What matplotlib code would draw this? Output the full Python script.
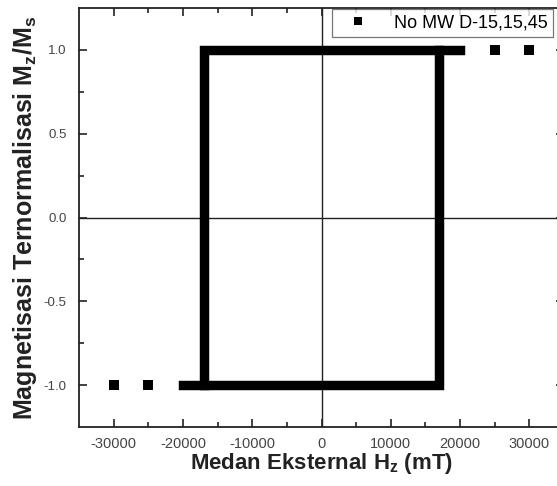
import matplotlib
matplotlib.use("Agg")
import matplotlib.pyplot as plt
from matplotlib.lines import Line2D

plt.rcParams['font.family'] = ['Liberation Sans', 'DejaVu Sans']
plt.rcParams['axes.unicode_minus'] = False
plt.rcParams['mathtext.fontset'] = 'custom'
plt.rcParams['mathtext.bf'] = 'Liberation Sans:bold'
plt.rcParams['mathtext.rm'] = 'Liberation Sans'

# titik-titik jarang (langkah medan 5000 mT)
h_sparse = [30000, 25000, -25000, -30000]
m_sparse = [1, 1, -1, -1]

# cabang turun (rapat): dari +20000 ke -17000, lalu loncat ke -1
h_desc = [20000, -17000, -17000]
m_desc = [1, 1, -1]

# cabang naik (rapat): dari -20000 ke +17000, lalu loncat ke +1
h_asc = [-20000, 17000, 17000]
m_asc = [-1, -1, 1]

legend_label = "No MW D-15,15,45"
x_ticks = [-30000, -20000, -10000, 0, 10000, 20000, 30000]
y_ticks = [-1.0, -0.5, 0.0, 0.5, 1.0]

fig = plt.figure(figsize=(5.57, 4.86), dpi=100)
ax = fig.add_axes([0.1418, 0.1214, 0.8708, 0.8621])

# garis nol
ax.axhline(0, color='#222222', lw=1.0, zorder=1)
ax.axvline(0, color='#222222', lw=1.0, zorder=1)

lw = 6.8
ax.plot(h_desc, m_desc, color='black', lw=lw, solid_capstyle='projecting',
        solid_joinstyle='miter', zorder=3)
ax.plot(h_asc, m_asc, color='black', lw=lw, solid_capstyle='projecting',
        solid_joinstyle='miter', zorder=3)
ax.plot(h_sparse, m_sparse, 's', color='black', ms=6.6, mew=0, zorder=3)

ax.set_xlim(-35000, 35000)
ax.set_ylim(-1.25, 1.25)
ax.set_xticks(x_ticks)
ax.set_xticks([-25000, -15000, -5000, 5000, 15000, 25000], minor=True)
ax.set_yticks(y_ticks)
ax.set_yticks([-0.75, -0.25, 0.25, 0.75], minor=True)
ax.set_yticklabels([f"{v:.1f}" for v in y_ticks])

ax.tick_params(which='both', direction='in', top=True, right=True,
               colors='#222222', labelcolor='#444444', width=1.2)
ax.tick_params(which='major', length=6)
ax.tick_params(which='minor', length=3.5)
ax.tick_params(axis='x', labelsize=10.5, pad=7)
ax.tick_params(axis='y', labelsize=9.5, pad=9)
for s in ax.spines.values():
    s.set_linewidth(1.3)
    s.set_color('#222222')

ax.set_xlabel("Medan Eksternal H$_\\mathbf{z}$ (mT)", fontsize=16, fontweight='bold',
              color='#222222', labelpad=0)
ax.set_ylabel("Magnetisasi Ternormalisasi M$_\\mathbf{z}$/M$_\\mathbf{s}$", fontsize=18,
              fontweight='bold', color='#222222', labelpad=3)

handle = Line2D([], [], marker='s', color='black', ls='none', ms=6, mew=0)
leg = ax.legend([handle], [legend_label], loc='upper left', bbox_to_anchor=(0.522, 0.997),
                fontsize=13, frameon=True, fancybox=False, borderpad=0.3,
                handletextpad=0.8, borderaxespad=0.0, handlelength=2.3)
leg.get_frame().set_edgecolor('#555555')
leg.get_frame().set_linewidth(0.9)

fig.savefig("out.png", dpi=100)
